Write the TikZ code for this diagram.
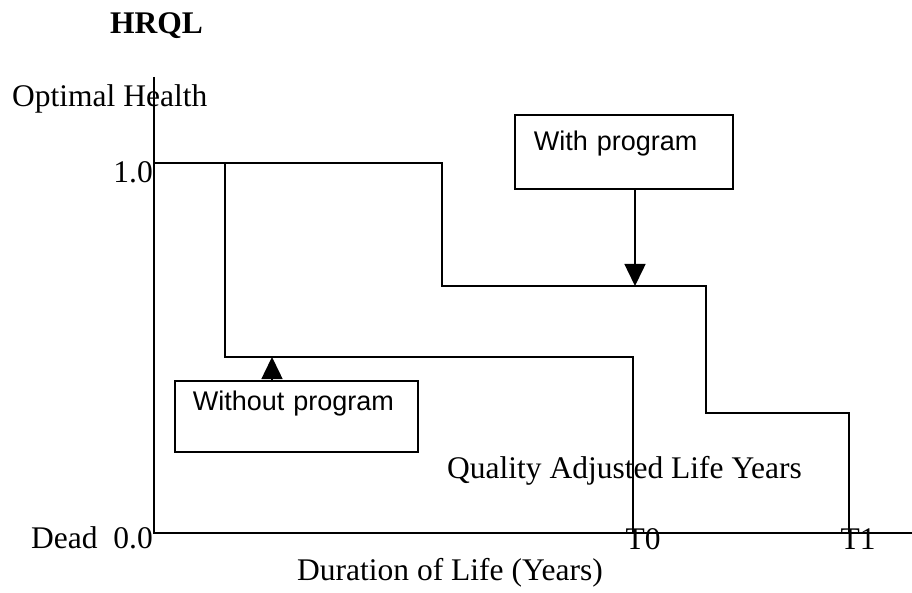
\documentclass[tikz,border=0pt]{standalone}
\usepackage{fontspec}
\setmainfont{Liberation Serif}
\newfontfamily\labelsans{Liberation Sans}
\usetikzlibrary{arrows.meta}
\begin{document}
\begin{tikzpicture}[x=1pt,y=-1pt,
  axis/.style={line width=1.8pt},
  curve/.style={line width=1.8pt, line join=miter},
  callout/.style={draw, line width=1.8pt, inner sep=0pt, text width=#1, align=left,
    font=\labelsans\fontsize{27}{32}\selectfont},
  pointer/.style={line width=1.5pt, -{Triangle[length=22pt,width=21pt]}},
  serif/.style={font=\fontsize{31.5}{36}\selectfont, inner sep=0pt},
]
\useasboundingbox (0,0) rectangle (912,593);

% axes
\coordinate (O) at (154,533);
\coordinate (Ytop) at (154,77);
\coordinate (Xend) at (912,533);
\draw[axis] (Ytop) -- (O) -- (Xend);

% health profile with the program
\coordinate (w0) at (154,163);
\coordinate (w1) at (442,163);
\coordinate (w2) at (442,286);
\coordinate (w3) at (706,286);
\coordinate (w4) at (706,413);
\coordinate (w5) at (849,413);
\coordinate (w6) at (849,533);
\draw[curve] (w0) -- (w1) -- (w2) -- (w3) -- (w4) -- (w5) -- (w6);

% health profile without the program
\coordinate (n0) at (225,163);
\coordinate (n1) at (225,357);
\coordinate (n2) at (633,357);
\coordinate (n3) at (633,533);
\draw[curve] (n0) -- (n1) -- (n2) -- (n3);

% axis texts
\node[serif, anchor=base west] (title) at (110,34) {\bfseries HRQL};
\node[serif, anchor=base west] (ylab) at (12,107) {Optimal Health};
\node[serif, anchor=base east] (one) at (153,183) {1.0};
\node[serif, anchor=base east] (zero) at (153,548) {Dead\ \ 0.0};
\node[serif, anchor=base] (t0) at (643,549) {T0};
\node[serif, anchor=base] (t1) at (858,549) {T1};
\node[serif, anchor=base west] (xlab) at (297,580) {Duration of Life (Years)};
\node[serif, anchor=base west] (qaly) at (447,478) {Quality Adjusted Life Years};

% callout boxes
\node[callout=218pt, text height=36pt, text depth=38pt, anchor=north west]
  (withbox) at (514,114) {\hspace*{19pt}With program};
\node[callout=243pt, text height=30pt, text depth=41pt, anchor=north west]
  (nobox) at (174,380) {\hspace*{18pt}Without program};

% pointers from the boxes to the curves
\coordinate (wtip) at (635,286);
\coordinate (ntip) at (272,357);
\draw[pointer] (withbox.south -| wtip) -- (wtip);
\draw[pointer] (nobox.north -| ntip) -- (ntip);
\end{tikzpicture}
\end{document}
